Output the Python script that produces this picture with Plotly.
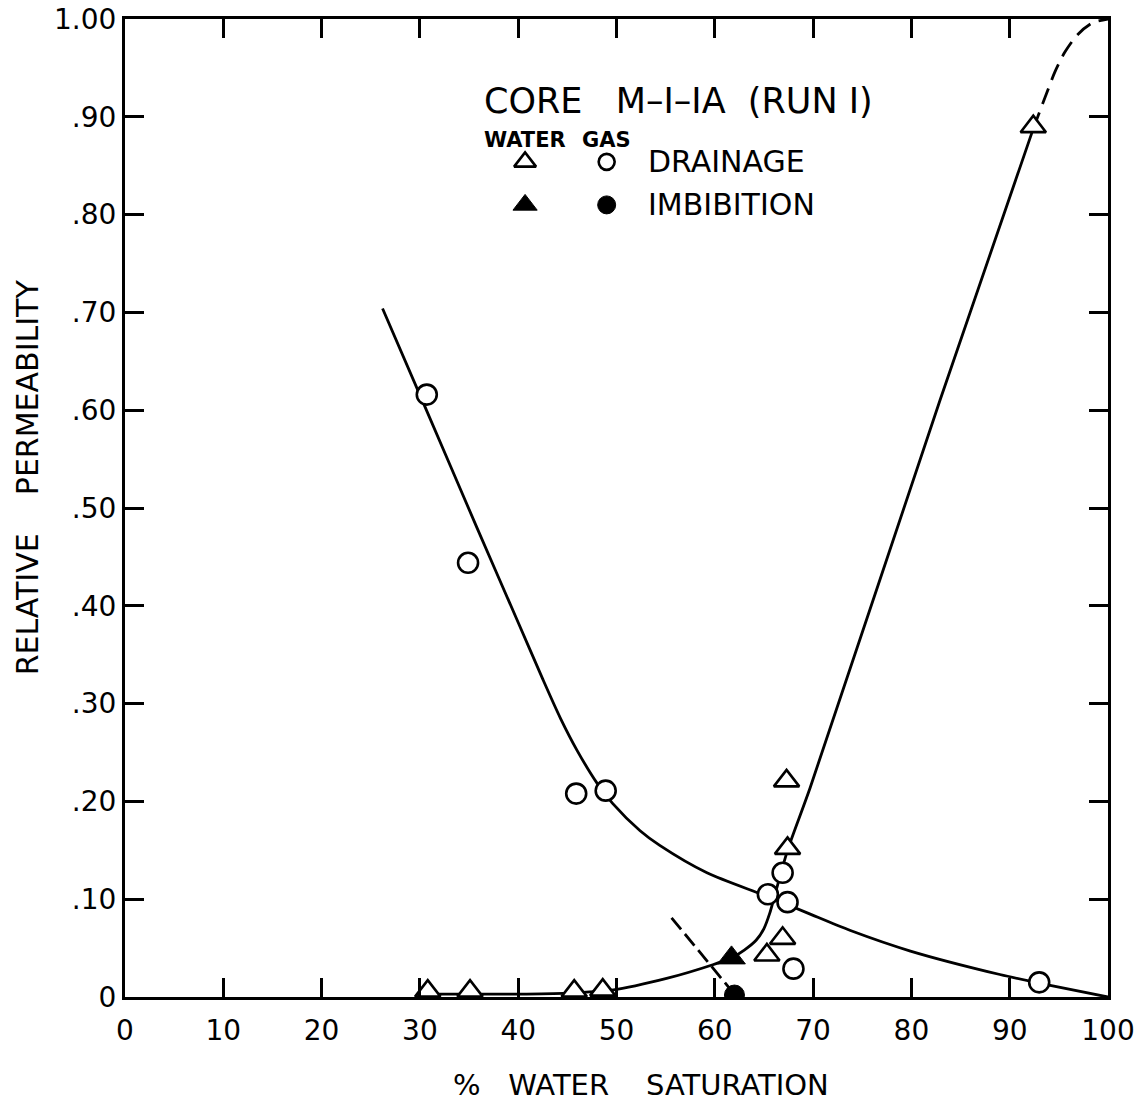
import plotly.graph_objects as go

# ---------------- data ----------------
# Gas relative permeability, drainage (open circles)
gas_drain_x = [30.7, 34.9, 45.9, 48.9, 65.4, 66.9, 67.4, 68.0, 93.0]
gas_drain_y = [0.616, 0.444, 0.208, 0.211, 0.105, 0.127, 0.097, 0.029, 0.015]
# Gas imbibition (filled circle)
gas_imb_x = [62.0]
gas_imb_y = [0.002]
# Water relative permeability, drainage (open triangles)
water_drain_x = [30.8, 35.1, 45.7, 48.6, 65.3, 66.9, 67.3, 67.4, 92.4]
water_drain_y = [0.006, 0.006, 0.006, 0.007, 0.043, 0.060, 0.221, 0.152, 0.890]
# Water imbibition (filled triangle)
water_imb_x = [61.7]
water_imb_y = [0.040]

# Gas curve (solid)
gas_curve_x = [26.2, 30.5, 35.8, 40.0, 42.5, 44.3, 46.0, 48.0, 49.6, 52.4, 54.4,
               59.2, 65.3, 69.4, 73.8, 79.9, 89.0, 93.1, 100.0]
gas_curve_y = [0.704, 0.604, 0.480, 0.383, 0.325, 0.285, 0.252, 0.219, 0.198, 0.170, 0.155,
               0.127, 0.103, 0.086, 0.068, 0.047, 0.023, 0.014, 0.0]
# Water curve (solid)
water_curve_x = [30.0, 40.0, 45.0, 49.5, 55.1, 59.8, 61.7, 63.0, 64.2, 65.0, 65.6, 66.1,
                 67.4, 69.7, 82.9, 92.4]
water_curve_y = [0.003, 0.003, 0.004, 0.007, 0.019, 0.033, 0.040, 0.048, 0.058, 0.070, 0.086, 0.104,
                 0.150, 0.214, 0.610, 0.888]
# Water curve extrapolation (dashed)
water_dash_x = [92.4, 93.6, 94.6, 95.6, 96.9, 98.4, 100.0]
water_dash_y = [0.888, 0.920, 0.946, 0.966, 0.984, 0.996, 1.0]
# Dashed imbibition path
imb_dash_x = [55.6, 61.9]
imb_dash_y = [0.081, 0.004]

x_ticks = [0, 10, 20, 30, 40, 50, 60, 70, 80, 90, 100]
x_tick_labels = ["0", "10", "20", "30", "40", "50", "60", "70", "80", "90", "100"]
y_ticks = [0, 0.1, 0.2, 0.3, 0.4, 0.5, 0.6, 0.7, 0.8, 0.9, 1.0]
y_tick_labels = ["0", ".10", ".20", ".30", ".40", ".50", ".60", ".70", ".80", ".90", "1.00"]

# legend key (data coordinates of the key symbols)
key_water_x = 40.7
key_gas_x = 49.0
key_drain_y = 0.854
key_imb_y = 0.810

FONT = "DejaVu Sans"
NB = "\u00a0"

fig = go.Figure()

line_style = dict(color="black", width=2.8)
fig.add_trace(go.Scatter(x=gas_curve_x, y=gas_curve_y, mode="lines",
                         line=dict(line_style, shape="spline", smoothing=0.8), hoverinfo="skip"))
fig.add_trace(go.Scatter(x=water_curve_x, y=water_curve_y, mode="lines",
                         line=dict(line_style, shape="spline", smoothing=0.7), hoverinfo="skip"))
fig.add_trace(go.Scatter(x=water_dash_x, y=water_dash_y, mode="lines",
                         line=dict(color="black", width=2.8, dash="17px,9px", shape="spline",
                                   smoothing=0.8), hoverinfo="skip"))
fig.add_trace(go.Scatter(x=imb_dash_x, y=imb_dash_y, mode="lines",
                         line=dict(color="black", width=2.8, dash="15px,6px"), hoverinfo="skip"))

open_line = dict(color="black", width=2.6)
fig.add_trace(go.Scatter(x=water_drain_x, y=water_drain_y, mode="markers",
                         marker=dict(symbol="triangle-up", size=22, color="white", line=open_line)))
fig.add_trace(go.Scatter(x=gas_drain_x, y=gas_drain_y, mode="markers",
                         marker=dict(symbol="circle", size=20, color="white", line=open_line)))
fig.add_trace(go.Scatter(x=water_imb_x, y=water_imb_y, mode="markers",
                         marker=dict(symbol="triangle-up", size=24, color="black",
                                     line=dict(color="black", width=1))))
fig.add_trace(go.Scatter(x=gas_imb_x, y=gas_imb_y, mode="markers",
                         marker=dict(symbol="circle", size=20, color="black",
                                     line=dict(color="black", width=1))))

# key symbols
fig.add_trace(go.Scatter(x=[key_water_x], y=[key_drain_y], mode="markers",
                         marker=dict(symbol="triangle-up", size=19, color="white", line=open_line)))
fig.add_trace(go.Scatter(x=[key_gas_x], y=[key_drain_y], mode="markers",
                         marker=dict(symbol="circle", size=16, color="white", line=open_line)))
fig.add_trace(go.Scatter(x=[key_water_x], y=[key_imb_y], mode="markers",
                         marker=dict(symbol="triangle-up", size=21, color="black",
                                     line=dict(color="black", width=1))))
fig.add_trace(go.Scatter(x=[key_gas_x], y=[key_imb_y], mode="markers",
                         marker=dict(symbol="circle", size=18, color="black",
                                     line=dict(color="black", width=1))))


def ann(text, x, y, xref="paper", yref="paper", size=30, xanchor="center", angle=0):
    return dict(text=text, x=x, y=y, xref=xref, yref=yref, showarrow=False,
                xanchor=xanchor, yanchor="middle", textangle=angle,
                font=dict(family=FONT, size=size, color="black"))


annotations = [
    ann(f"CORE{NB}{NB}{NB}M–I–IA{NB}{NB}(RUN{NB}I)", 0.5626, 0.9166, size=35),
    ann("<b>WATER</b>", key_water_x, 0.876, xref="x", size=21),
    ann("<b>GAS</b>", key_gas_x, 0.876, xref="x", size=21),
    ann("DRAINAGE", 53.0, key_drain_y, xref="x", yref="y", size=30, xanchor="left"),
    ann("IMBIBITION", 53.0, key_imb_y, xref="x", yref="y", size=30, xanchor="left"),
    ann(f"%{NB}{NB}{NB}WATER{NB}{NB}{NB}{NB}SATURATION", 0.525, -0.0895, size=29),
    ann(f"RELATIVE{NB}{NB}{NB}{NB}PERMEABILITY", -0.099, 0.531, size=30, angle=-90),
]

axis_common = dict(showline=True, linecolor="black", linewidth=3, mirror="ticks",
                   ticks="inside", ticklen=19, tickwidth=2.8, tickcolor="black",
                   showgrid=False, zeroline=False, ticklabeloverflow="allow",
                   automargin=False,
                   tickfont=dict(family=FONT, size=28, color="black"))

fig.update_layout(
    width=1142, height=1104,
    margin=dict(l=125, r=34, t=19, b=107),
    paper_bgcolor="white", plot_bgcolor="white",
    showlegend=False,
    annotations=annotations,
    xaxis=dict(axis_common, range=[0, 100.0001], tickvals=x_ticks, ticktext=x_tick_labels,
               ticklabelstandoff=6),
    yaxis=dict(axis_common, range=[0, 1.0001], tickvals=y_ticks, ticktext=y_tick_labels),
)

fig.write_html("out.html")
